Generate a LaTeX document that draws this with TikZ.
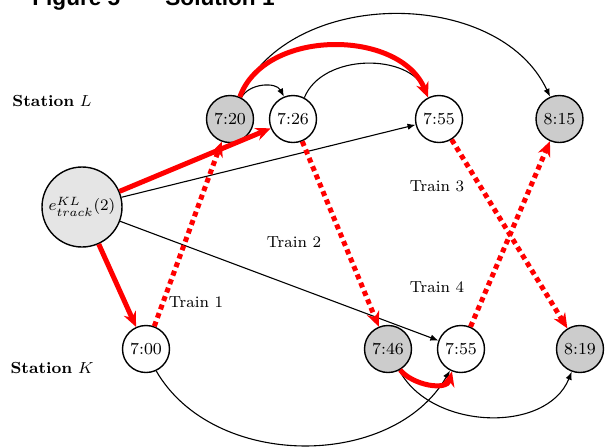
\documentclass[tikz,border=0pt]{standalone}
\usepackage{fontspec}
\newfontfamily\titlefont{Liberation Sans}
\usetikzlibrary{arrows.meta}
\begin{document}
\begin{tikzpicture}[x=0.5pt,y=-0.5pt,font=\footnotesize,
  ev/.style={circle,draw,line width=0.7pt,minimum size=23.5pt,inner sep=0pt,fill=white,font=\fontsize{8.4}{10}\selectfont},
  evg/.style={ev,fill=black!20},
  big/.style={circle,draw,line width=0.7pt,minimum size=40pt,inner sep=0pt,fill=black!10,font=\fontsize{8.4}{10}\selectfont},
  blk/.style={line width=0.55pt,-{Latex[length=4pt,width=3.2pt]}},
  redsol/.style={red,line width=2.5pt,-{Stealth[length=7.5pt,width=6.5pt]}},
  reddot/.style={red,line width=2.5pt,dash pattern=on 2.5pt off 2pt,-{Stealth[length=7.5pt,width=6.5pt]}},
  lab/.style={inner sep=0pt},
  ttl/.style={anchor=base west,inner sep=0pt,font=\titlefont\bfseries\fontsize{11.3}{13}\selectfont}]
\useasboundingbox (0,0) rectangle (606,446);
% title (cut off at the top)
\node[ttl] (t1) at (32,5.5) {Figure 5};
\node[ttl] (t2) at (165,5.5) {Solution 1};
% station labels
\node[lab] (sL) at (52,101) {\textbf{Station} $L$};
\node[lab] (sK) at (52,368) {\textbf{Station} $K$};
% nodes
\node[big] (e) at (82,207) {$e^{KL}_{track}(2)$};
\node[evg] (a720) at (230,119) {7:20};
\node[ev] (a726) at (293,119) {7:26};
\node[ev] (a755) at (439,119) {7:55};
\node[evg] (a815) at (559.5,119) {8:15};
\node[ev] (b700) at (146,349) {7:00};
\node[evg] (b746) at (388,349) {7:46};
\node[ev] (b755) at (461,349) {7:55};
\node[evg] (b819) at (580,349) {8:19};
% train labels
\node[lab] (tr1) at (196,302) {Train 1};
\node[lab] (tr2) at (294,242) {Train 2};
\node[lab] (tr3) at (437,186) {Train 3};
\node[lab] (tr4) at (437,287) {Train 4};
% black edges
\draw[blk] (e) -- (a755);
\draw[blk] (e) -- (b755);
\draw[blk] (a720.62) to[out=62,in=118] (a726.112);
\draw[blk] (a726.62) to[out=68,in=112] (a755.117);
\draw[blk] (a720.66) to[out=66,in=115] (a815.113);
\draw[blk] (b700.-65) to[out=-60,in=-120] (b755.-117);
\draw[blk] (b746.-62) to[out=-62,in=-112] (b819.-110);
% red dotted edges
\draw[reddot] (b700) -- (a720);
\draw[reddot] (a726) -- (b746);
\draw[reddot] (a755) -- (b819);
\draw[reddot] (b755) -- (a815);
% red solid edges
\draw[redsol] (e) -- (a726);
\draw[redsol] (e) -- (b700);
\draw[redsol] (a720.66) to[out=70,in=112] (a755.117);
\draw[redsol] (b746.-60) to[out=-50,in=-105] (b755.-112);
\end{tikzpicture}
\end{document}
